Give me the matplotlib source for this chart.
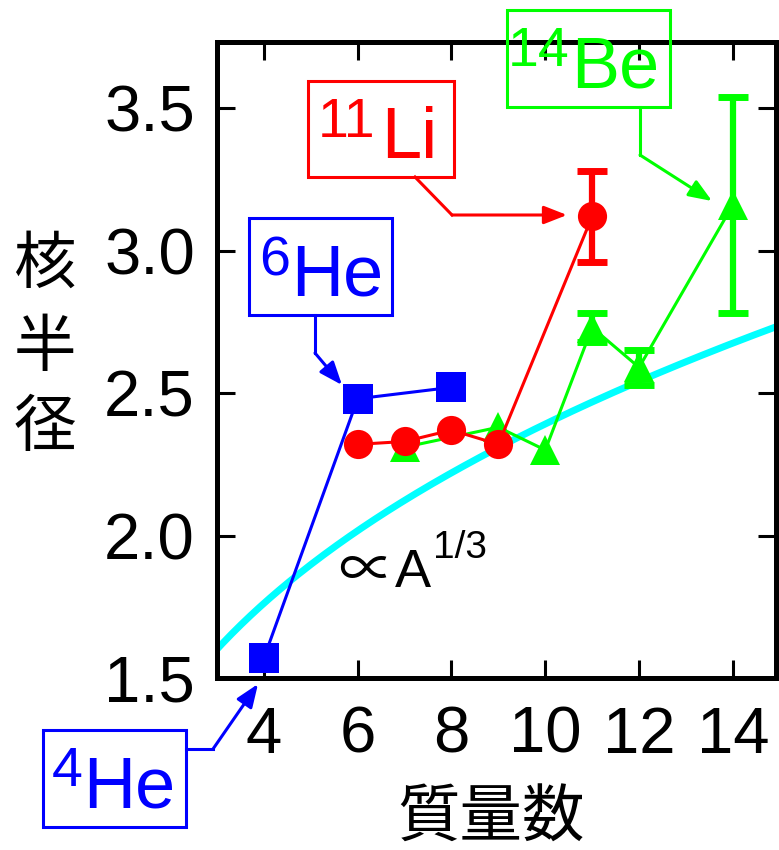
import matplotlib
matplotlib.use("Agg")
import matplotlib.pyplot as plt
import numpy as np
from matplotlib.patches import Rectangle, FancyArrowPatch
from matplotlib.lines import Line2D

plt.rcParams['font.family'] = ['Liberation Sans', 'DejaVu Sans']
CJK = ['Noto Sans CJK JP', 'DejaVu Sans']

# 質量数と核半径 (fm)
he_a = [4, 6, 8]
he_r = [1.57, 2.48, 2.52]

li_a = [6, 7, 8, 9, 11]
li_r = [2.32, 2.33, 2.37, 2.32, 3.12]
li_err = [0, 0, 0, 0, 0.16]

be_a = [7, 9, 10, 11, 12, 14]
be_r = [2.31, 2.38, 2.30, 2.73, 2.59, 3.16]
be_err = [0, 0, 0, 0.05, 0.06, 0.38]

r0 = 1.11  # r = r0 * A^(1/3)

x_ticks = [4, 6, 8, 10, 12, 14]
y_ticks = [1.5, 2.0, 2.5, 3.0, 3.5]

BLUE, RED, GREEN, CYAN = '#0000ff', '#ff0000', '#00ff00', '#00ffff'

W, H = 779, 850
fig = plt.figure(figsize=(W / 100, H / 100), dpi=100)
ax = fig.add_axes([217 / W, 1 - 678 / H, (776 - 217) / W, (678 - 42) / H])


def fp(x, y):
    # pixel (from top-left) -> figure fraction
    return x / W, 1 - y / H


# A^(1/3) の曲線
a = np.linspace(2.5, 16, 200)
ax.plot(a, r0 * a ** (1 / 3), color=CYAN, lw=5, zorder=1)

ax.plot(he_a, he_r, color=BLUE, lw=2.2, marker='s', ms=21, mew=0, zorder=3)
ax.plot(be_a, be_r, color=GREEN, lw=2.2, marker='^', ms=21, mew=0, zorder=3)
ax.plot(li_a, li_r, color=RED, lw=2.2, marker='o', ms=21, mew=0, zorder=4)


def err_only(xs, ys, es, color, z):
    idx = [i for i, e in enumerate(es) if e > 0]
    ax.errorbar([xs[i] for i in idx], [ys[i] for i in idx],
                yerr=[es[i] for i in idx], fmt='none', ecolor=color,
                elinewidth=4.5, capsize=11, capthick=5, zorder=z)


err_only(li_a, li_r, li_err, RED, 4)
err_only(be_a, be_r, be_err, GREEN, 3)

ax.set_xlim(3, 14.92)
ax.set_ylim(1.5, 3.732)
ax.set_xticks(x_ticks)
ax.set_xticklabels([str(v) for v in x_ticks])
ax.set_yticks(y_ticks)
ax.set_yticklabels([f"{v:.1f}" for v in y_ticks])
ax.tick_params(direction='in', length=13, width=2.2, top=True, right=True,
               labelsize=47)
ax.tick_params(axis='x', pad=20)
ax.tick_params(axis='y', pad=16)
for s in ax.spines.values():
    s.set_linewidth(3.6)

# 軸ラベル
for ch, yc in zip("核半径", [265, 348, 428]):
    fig.text(*fp(45, yc), ch, fontsize=45, family=CJK, ha='center', va='center')
fig.text(*fp(491, 819), "質量数", fontsize=45, family=CJK, ha='center', va='center')

# ∝A^(1/3)
fig.text(*fp(338, 588), "\u221d", fontsize=40, family=CJK,
         ha='left', va='baseline')
fig.text(*fp(395, 587), "A", fontsize=39, ha='left', va='baseline')
fig.text(*fp(433, 558), "1/3", fontsize=28, ha='left', va='baseline')


def label(box, sup, sup_pos, name, name_pos, path, color):
    x0, y0, x1, y1 = box
    fx0, fy1 = fp(x0, y1)
    fx1, fy0 = fp(x1, y0)
    fig.add_artist(Rectangle((fx0, fy1), fx1 - fx0, fy0 - fy1,
                             transform=fig.transFigure, fill=False,
                             ec=color, lw=2.2))
    fig.text(*fp(*sup_pos), sup, fontsize=40, color=color, va='baseline')
    fig.text(*fp(*name_pos), name, fontsize=52, color=color, va='baseline')
    pts = [fp(*p) for p in path]
    xs, ys = zip(*pts[:-1])
    fig.add_artist(Line2D(xs, ys, transform=fig.transFigure, color=color,
                          lw=2.2, solid_joinstyle='miter'))
    fig.add_artist(FancyArrowPatch(pts[-2], pts[-1], transform=fig.transFigure,
                                   arrowstyle='-|>,head_length=14,head_width=5.5',
                                   mutation_scale=1, color=color, lw=2.2,
                                   shrinkA=0, shrinkB=0))


label((249, 218, 392, 315), "6", (259, 275), "He", (291, 295),
      [(315, 315), (315, 353), (342, 385)], BLUE)
label((308, 81, 454, 177), "11", (318, 137), "Li", (381, 158),
      [(415, 177), (452, 215), (567, 215)], RED)
label((507, 10, 670, 107), "14", (508, 66), "Be", (571, 87),
      [(640, 107), (640, 155), (712, 201)], GREEN)
label((43, 730, 186, 827), "4", (52, 786), "He", (83, 807),
      [(186, 749), (213, 749), (258, 684)], BLUE)

fig.savefig("out.png", dpi=100)
